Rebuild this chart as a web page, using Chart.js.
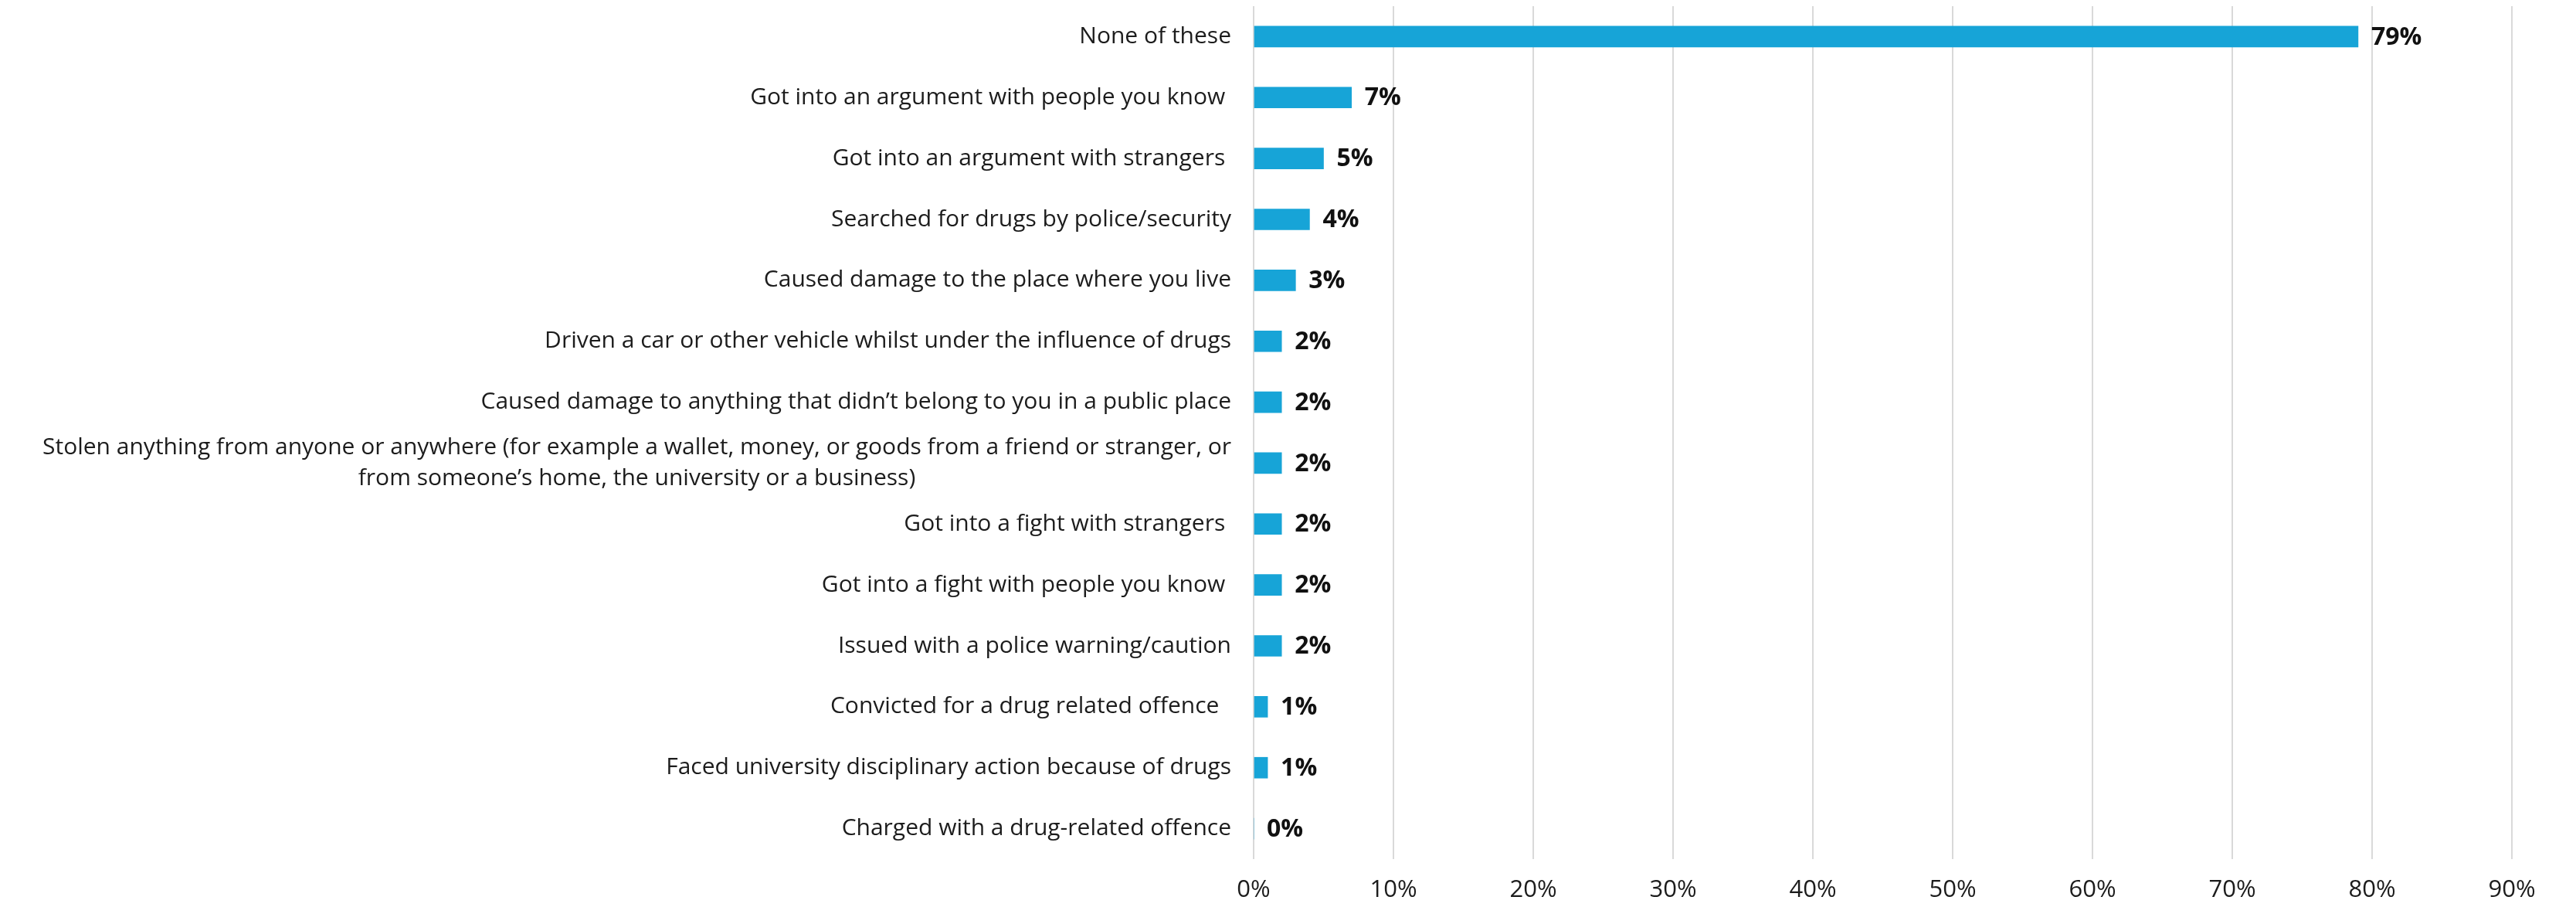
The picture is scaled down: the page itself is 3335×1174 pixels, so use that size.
<!DOCTYPE html>
<html>
<head>
<meta charset="utf-8">
<script src="https://cdn.jsdelivr.net/npm/chart.js@4/dist/chart.umd.min.js"></script>
<style>
  html, body { margin: 0; padding: 0; background: #ffffff; }
  #wrap { width: 3335px; height: 1174px; }
</style>
</head>
<body>
<div id="wrap"><canvas id="c" width="3335" height="1174"></canvas></div>
<script>
const categories = [
  "None of these",
  "Got into an argument with people you know ",
  "Got into an argument with strangers ",
  "Searched for drugs by police/security",
  "Caused damage to the place where you live",
  "Driven a car or other vehicle whilst under the influence of drugs",
  "Caused damage to anything that didn\u2019t belong to you in a public place",
  ["Stolen anything from anyone or anywhere (for example a wallet, money, or goods from a friend or stranger, or",
   "from someone\u2019s home, the university or a business)"],
  "Got into a fight with strangers ",
  "Got into a fight with people you know ",
  "Issued with a police warning/caution",
  "Convicted for a drug related offence  ",
  "Faced university disciplinary action because of drugs",
  "Charged with a drug-related offence"
];
const values = [79, 7, 5, 4, 3, 2, 2, 2, 2, 2, 2, 1, 1, 0];
const valueLabels = ["79%", "7%", "5%", "4%", "3%", "2%", "2%", "2%", "2%", "2%", "2%", "1%", "1%", "0%"];
const tickValues = [0, 10, 20, 30, 40, 50, 60, 70, 80, 90];
const tickLabels = ["0%", "10%", "20%", "30%", "40%", "50%", "60%", "70%", "80%", "90%"];

const LABEL_FONT = "'Open Sans', Lato, sans-serif";

const categoryLabelPlugin = {
  id: 'categoryLabels',
  afterDraw(chart) {
    const ctx = chart.ctx;
    const yScale = chart.scales.y;
    const xRight = chart.chartArea.left - 29;
    ctx.save();
    ctx.font = "30px " + LABEL_FONT;
    ctx.fillStyle = "#1c1c1c";
    ctx.textBaseline = "middle";
    const lineH = 40;
    categories.forEach((lab, i) => {
      const y = yScale.getPixelForValue(i);
      if (Array.isArray(lab)) {
        const widths = lab.map(l => ctx.measureText(l).width);
        const maxW = Math.max(...widths);
        const cx = xRight - maxW / 2;
        ctx.textAlign = "center";
        const y0 = y - (lab.length - 1) * lineH / 2;
        lab.forEach((l, k) => ctx.fillText(l, cx, y0 + k * lineH));
      } else {
        ctx.textAlign = "right";
        ctx.fillText(lab, xRight, y);
      }
    });
    ctx.restore();
  }
};

const valueLabelPlugin = {
  id: 'valueLabels',
  afterDatasetsDraw(chart) {
    const ctx = chart.ctx;
    const meta = chart.getDatasetMeta(0);
    ctx.save();
    ctx.font = "bold 32px " + LABEL_FONT;
    ctx.fillStyle = "#111111";
    ctx.textAlign = "left";
    ctx.textBaseline = "middle";
    meta.data.forEach((bar, i) => {
      ctx.fillText(valueLabels[i], bar.x + 17, bar.y + 1);
    });
    ctx.restore();
  }
};

new Chart(document.getElementById('c'), {
  type: 'bar',
  data: {
    labels: categories,
    datasets: [{
      data: values,
      backgroundColor: '#17A4D7',
      borderWidth: 0,
      barThickness: 27
    }]
  },
  options: {
    indexAxis: 'y',
    responsive: false,
    devicePixelRatio: 1,
    animation: false,
    layout: { padding: { left: 1623, top: 8, right: 83, bottom: 0 } },
    plugins: {
      legend: { display: false },
      tooltip: { enabled: false },
      title: { display: false }
    },
    scales: {
      x: {
        type: 'linear',
        min: 0,
        max: 90,
        afterBuildTicks(axis) { axis.ticks = tickValues.map(v => ({ value: v })); },
        afterFit(axis) { axis.height = 62; },
        ticks: {
          callback: (v) => tickLabels[tickValues.indexOf(v)],
          font: { family: LABEL_FONT, size: 31 },
          color: '#1c1c1c',
          padding: 22,
          maxRotation: 0
        },
        grid: { color: '#D9D9D9', lineWidth: 2, drawTicks: false },
        border: { display: false }
      },
      y: {
        type: 'category',
        display: false
      }
    }
  },
  plugins: [categoryLabelPlugin, valueLabelPlugin]
});
</script>
</body>
</html>
